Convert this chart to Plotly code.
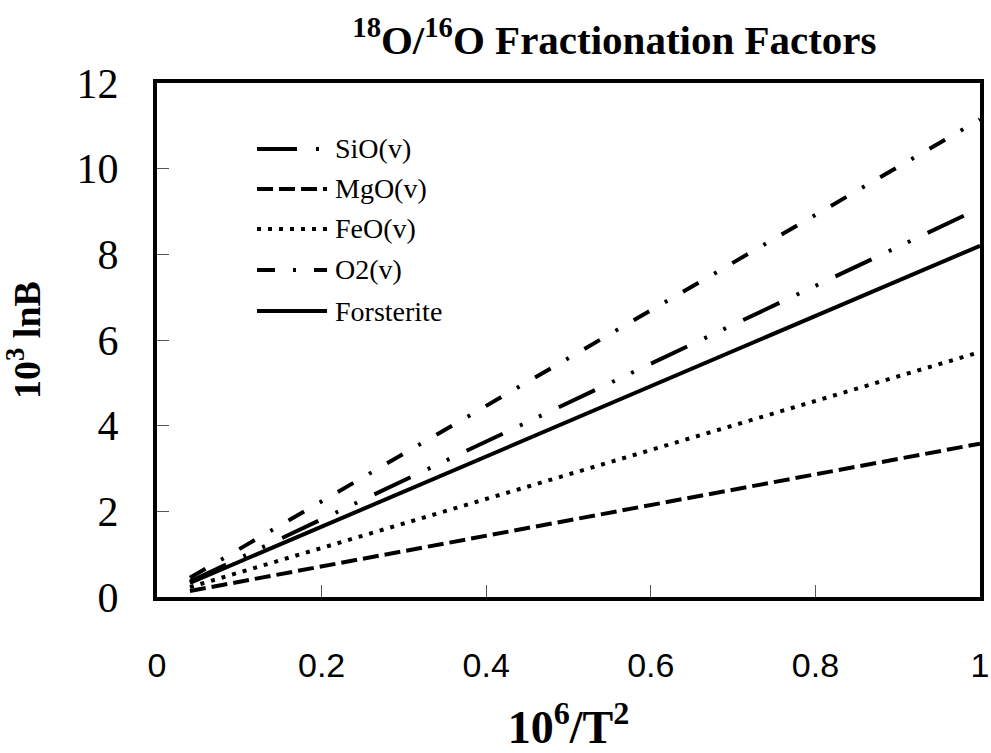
import plotly.graph_objects as go

# 10^6/T^2 range covered by each fractionation line
x_vals = [0.04, 1.0]

series_names = ["SiO(v)", "MgO(v)", "FeO(v)", "O2(v)", "Forsterite"]
sio_vals = [0.36, 9.08]
mgo_vals = [0.14, 3.58]
feo_vals = [0.23, 5.72]
o2_vals = [0.45, 11.15]
forsterite_vals = [0.33, 8.20]

x_ticks = [0, 0.2, 0.4, 0.6, 0.8, 1]
y_ticks = [0, 2, 4, 6, 8, 10, 12]

series_values = [sio_vals, mgo_vals, feo_vals, o2_vals, forsterite_vals]
dash_styles = [
    "40px,19px,3px,18px,3px,19px",
    "16px,6px",
    "4px,7px",
    "18px,18px,3px,18px",
    "solid",
]

SERIF = "Liberation Serif"

fig = go.Figure()
for name, vals, dash in zip(series_names, series_values, dash_styles):
    fig.add_trace(go.Scatter(
        x=x_vals, y=vals, mode="lines", name=name,
        line=dict(color="black", width=4, dash=dash),
        showlegend=False,
    ))

# Legend drawn as line samples with labels inside the plot area
leg_x0, leg_x1, leg_tx = 0.1215, 0.2066, 0.2139
leg_rows = [0.8716, 0.7938, 0.716, 0.6362, 0.5564]
shapes = []
annotations = []
for name, dash, ly in zip(series_names, dash_styles, leg_rows):
    shapes.append(dict(type="line", xref="paper", yref="paper",
                       x0=leg_x0, x1=leg_x1, y0=ly, y1=ly,
                       line=dict(color="black", width=4, dash=dash)))
    annotations.append(dict(xref="paper", yref="paper", x=leg_tx, y=ly,
                            text=name, showarrow=False, xanchor="left",
                            yanchor="middle",
                            font=dict(family=SERIF, size=28, color="black")))

fig.update_layout(
    width=991, height=753,
    margin=dict(l=157, r=11, t=83, b=156),
    paper_bgcolor="white", plot_bgcolor="white",
    title=dict(
        text="<b><sup>18</sup>O/<sup>16</sup>O Fractionation Factors</b>",
        x=0.62, xref="container", xanchor="center",
        y=1 - 40 / 753, yref="container", yanchor="middle",
        font=dict(family=SERIF, size=41, color="black"),
    ),
    shapes=shapes,
    annotations=annotations,
)

fig.update_xaxes(
    range=[0, 1], tickvals=x_ticks, ticktext=[f"{v:g}" for v in x_ticks],
    showgrid=False, zeroline=False, automargin=False,
    showline=True, linewidth=4, linecolor="black", mirror=True,
    ticks="inside", ticklen=12, tickwidth=1, tickcolor="#555",
    ticklabelstandoff=35,
    tickfont=dict(family="Liberation Sans", size=34, color="black"),
    title=dict(text="<b>10<sup>6</sup>/T<sup>2</sup></b>", standoff=34,
               font=dict(family=SERIF, size=46, color="black")),
)
fig.update_yaxes(
    range=[0, 12], tickvals=y_ticks, ticktext=[str(v) for v in y_ticks],
    showgrid=False, zeroline=False, automargin=False,
    showline=True, linewidth=4, linecolor="black", mirror=True,
    ticks="inside", ticklen=12, tickwidth=1, tickcolor="#555",
    ticklabelstandoff=26,
    tickfont=dict(family=SERIF, size=42, color="black"),
    title=dict(text="<b>10<sup>3</sup> lnB</b>", standoff=28,
               font=dict(family=SERIF, size=38, color="black")),
)

fig.write_html("out.html")
